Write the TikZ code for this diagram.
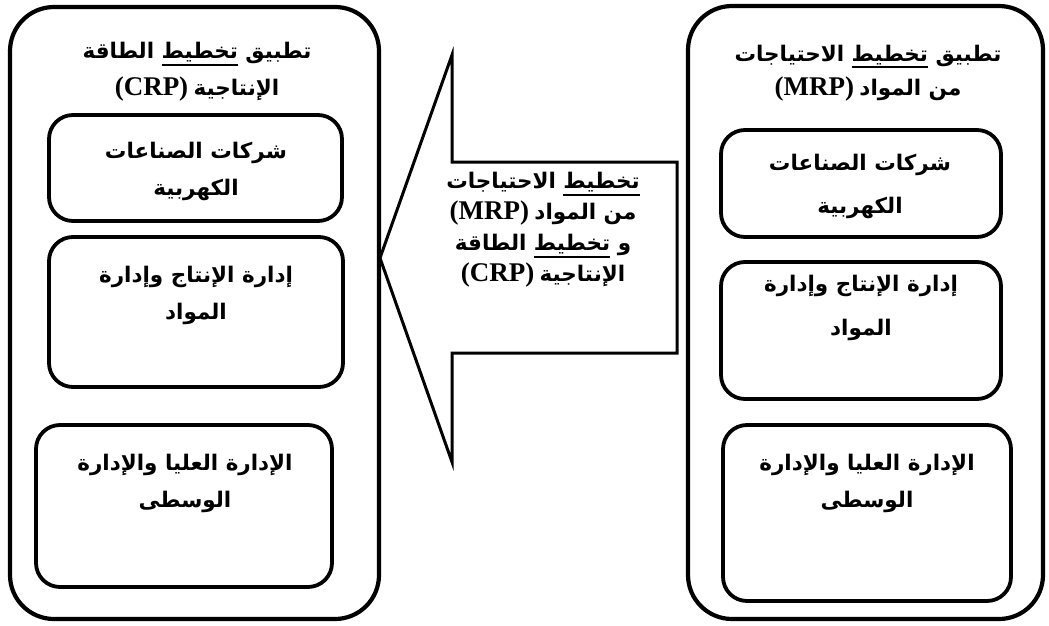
\documentclass[tikz,border=0pt]{standalone}
\usepackage{fontspec}
\setmainfont{Liberation Serif}
\TeXXeTstate=1
\newfontfamily\arabicfont[Script=Arabic]{DejaVu Sans}
% one right-to-left Arabic line
\newcommand{\arl}[1]{\beginR{\arabicfont\bfseries #1}\endR}
% Arabic words followed (on the left) by a Latin acronym
\newcommand{\arlat}[2]{\beginR{\arabicfont\bfseries #1} \beginL{\fontsize{27}{27}\selectfont\bfseries #2}\endL\endR}
% an underlined word
\newcommand{\uword}[1]{\setbox0\hbox{#1}\leavevmode\vtop{\copy0\kern1.2pt\hrule height 2pt width \wd0}}
\tikzset{
  outerbox/.style={draw, line width=4.2pt, rounded corners=44pt},
  innerbox/.style={draw, line width=3.8pt, rounded corners=24pt},
  label/.style={align=center, inner sep=0pt, font=\fontsize{21.5}{37}\selectfont},
  flow/.style={draw, line width=3pt, line join=miter}
}
\begin{document}
\begin{tikzpicture}[x=1pt,y=-1pt]
\useasboundingbox (0,0) rectangle (1049,626);
% outer frames
\draw[outerbox] (10,7) rectangle (379,619);
\draw[outerbox] (688,6) rectangle (1043,619);
% left column boxes
\draw[innerbox] (49,115) rectangle (342,221);
\draw[innerbox] (49,237) rectangle (343,387);
\draw[innerbox] (36,425) rectangle (332,587);
% right column boxes
\draw[innerbox] (721,130) rectangle (1001,237);
\draw[innerbox] (721,262) rectangle (1001,399);
\draw[innerbox] (723,425) rectangle (1011,601);
% block arrow pointing left
\coordinate (tip) at (380,258);
\draw[flow] (tip) -- (452,55) -- (452,162) -- (677,162) -- (677,353)
  -- (452,353) -- (452,462) -- cycle;
% texts
\node[label] (ltitle) at (197,72) {\arl{تطبيق \uword{تخطيط} الطاقة}\\\arlat{الإنتاجية}{(CRP)}};
\node[label] (l1) at (196,171) {\arl{شركات الصناعات}\\\arl{الكهربية}};
\node[label] (l2) at (196,295) {\arl{إدارة الإنتاج وإدارة}\\\arl{المواد}};
\node[label] (l3) at (185,483) {\arl{الإدارة العليا والإدارة}\\\arl{الوسطى}};
\node[label, font=\fontsize{21.5}{31}\selectfont] (mid) at (543,230)
  {\arl{\uword{تخطيط} الاحتياجات}\\\arlat{من المواد}{(MRP)}\\\arl{و \uword{تخطيط} الطاقة}\\\arlat{الإنتاجية}{(CRP)}};
\node[label, font=\fontsize{21.5}{34}\selectfont] (rtitle) at (868,73) {\arl{تطبيق \uword{تخطيط} الاحتياجات}\\\arlat{من المواد}{(MRP)}};
\node[label, font=\fontsize{21.5}{43}\selectfont] (r1) at (860,186) {\arl{شركات الصناعات}\\\arl{الكهربية}};
\node[label, font=\fontsize{21.5}{44}\selectfont] (r2) at (861,308) {\arl{إدارة الإنتاج وإدارة}\\\arl{المواد}};
\node[label] (r3) at (867,483) {\arl{الإدارة العليا والإدارة}\\\arl{الوسطى}};
\end{tikzpicture}
\end{document}
